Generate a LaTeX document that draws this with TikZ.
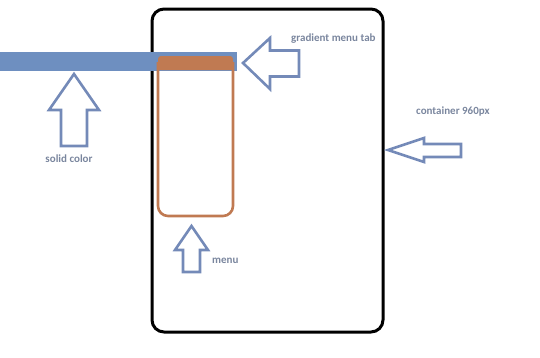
\documentclass[tikz,border=0pt]{standalone}
\usepackage{fontspec}
\setmainfont{Carlito}
\definecolor{barblue}{RGB}{110,143,192}
\definecolor{arrowblue}{RGB}{116,138,184}
\definecolor{menuorange}{RGB}{192,122,82}
\definecolor{labelgray}{RGB}{122,134,158}
\tikzset{
  blockarrow/.style={draw=arrowblue, line width=2.6pt, fill=white, line join=miter},
  lbl/.style={text=labelgray, font=\bfseries\fontsize{11}{13}\selectfont, inner sep=0pt},
}
\begin{document}
\begin{tikzpicture}[x=1pt,y=-1pt]
\useasboundingbox (0,0) rectangle (540,357);
% container
\draw[line width=3pt, rounded corners=12pt] (152,9) rectangle (383,332);
\coordinate (contR) at (383,150);
% solid bar
\fill[barblue] (0,52) rectangle (237,71);
% menu outline
\draw[menuorange, line width=2.6pt, rounded corners=10pt] (158,62) -- (158,216) -- (233,216) -- (233,62);
% gradient tab
\fill[menuorange, rounded corners=3pt] (158,70) -- (158,56) -- (233,56) -- (233,70) -- cycle;
\fill[menuorange] (158,64) rectangle (233,70);
% arrows
% solid color (up)
\draw[blockarrow] (74,74) -- (99,110) -- (87,110) -- (87,146) -- (61,146) -- (61,110) -- (49,110) -- cycle;
% gradient tab (left)
\draw[blockarrow] (243,63) -- (270,38) -- (270,50.5) -- (299,50.5) -- (299,76.5) -- (270,76.5) -- (270,89) -- cycle;
% container (left)
\draw[blockarrow] (388,150) -- (424,138) -- (424,144) -- (461,144) -- (461,157) -- (424,157) -- (424,162) -- cycle;
% menu (up)
\draw[blockarrow] (191.5,226) -- (208,250) -- (200,250) -- (200,272) -- (183,272) -- (183,250) -- (175,250) -- cycle;
% labels
\node[lbl] (solid) at (69,159) {solid color};
\node[lbl, anchor=west] (grad) at (291,39) {gradient menu tab};
\node[lbl, anchor=west] (cont) at (416,111) {container 960px};
\node[lbl, anchor=west] (menu) at (212,261) {menu};
\end{tikzpicture}
\end{document}
